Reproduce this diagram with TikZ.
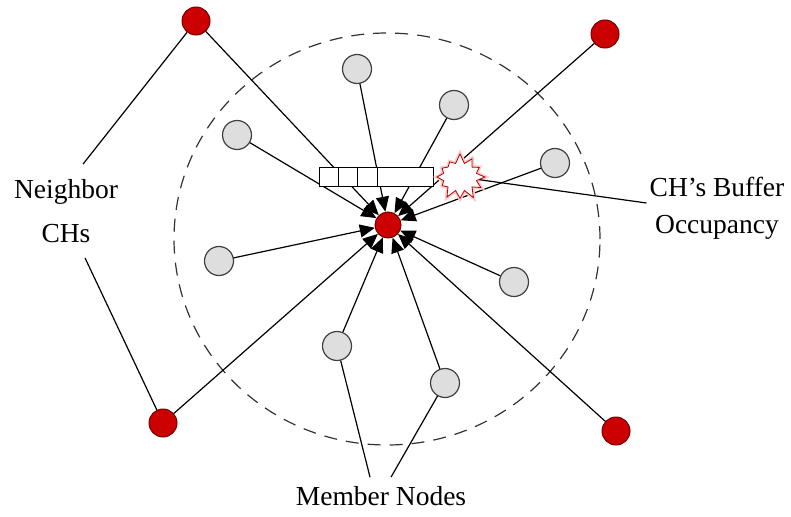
\documentclass[tikz,border=0pt]{standalone}
\usepackage{fontspec}
\setmainfont{Liberation Serif}
\usetikzlibrary{arrows.meta, shapes.symbols}

\begin{document}
\begin{tikzpicture}[
    x=1pt, y=-1pt,
    ch/.style={circle, draw=red!45!black, fill=red!80!black, line width=1pt, minimum size=28pt, inner sep=0pt},
    member/.style={circle, draw=black!75, fill=black!13, line width=1.2pt, minimum size=29pt, inner sep=0pt},
    link/.style={line width=1.2pt, -{Triangle[length=15pt, width=13pt]}},
    wire/.style={line width=1.2pt},
    lbl/.style={font=\fontsize{27.5}{44}\selectfont, align=center}
]
    \useasboundingbox (0,0) rectangle (791,516);

    % cluster range
    \draw[line width=1.2pt, black!80, dash pattern=on 13pt off 9pt]
        (387,239) ellipse [x radius=213pt, y radius=206pt];

    % cluster head
    \node[ch, minimum size=26pt] (c) at (388,225) {};

    % neighbor CHs
    \node[ch] (ch1) at (196,21) {};
    \node[ch] (ch2) at (605,34) {};
    \node[ch] (ch3) at (163,423) {};
    \node[ch] (ch4) at (616,431) {};

    % member nodes
    \node[member] (m1) at (357,69) {};
    \node[member] (m2) at (454,105) {};
    \node[member] (m3) at (237,135) {};
    \node[member] (m4) at (555,163) {};
    \node[member] (m5) at (219,261) {};
    \node[member] (m6) at (514,282) {};
    \node[member] (m7) at (337,346) {};
    \node[member] (m8) at (445,383) {};

    \foreach \n in {ch1,ch2,ch3,ch4,m1,m2,m3,m4,m5,m6,m7,m8}
        \draw[link] (\n) -- (c);

    % buffer
    \node[draw, fill=white, line width=1pt, minimum width=114pt, minimum height=19pt, inner sep=0pt] (buf) at (376,176.5) {};
    \foreach \d in {20,39,59}
        \draw[line width=1pt] ([xshift=\d pt]buf.north west) -- ([xshift=\d pt]buf.south west);

    % overflow
    \node[starburst, draw=red!70!black, fill=white, line width=0.8pt,
          preaction={draw=red!20, line width=4pt},
          minimum width=54pt, minimum height=48pt,
          starburst points=12, starburst point height=10pt, random starburst=7] (ovf) at (460,177) {};

    % labels
    \node[lbl, inner sep=15pt] (nb) at (66,211) {Neighbor\\CHs};
    \draw[wire] (ch1) -- ([xshift=17pt]nb.north);
    \draw[wire] (ch3) -- ([xshift=19pt]nb.south);

    \node[lbl, font=\fontsize{27.5}{37}\selectfont, inner sep=3pt] (bo) at (717,208) {CH's Buffer\\Occupancy};
    \draw[wire] (ovf) -- ([yshift=5pt]bo.west);

    \node[lbl, inner sep=9pt] (mn) at (381,496) {Member Nodes};
    \draw[wire] (m7) -- ([xshift=-11pt]mn.north);
    \draw[wire] (m8) -- ([xshift=10pt]mn.north);
\end{tikzpicture}
\end{document}
